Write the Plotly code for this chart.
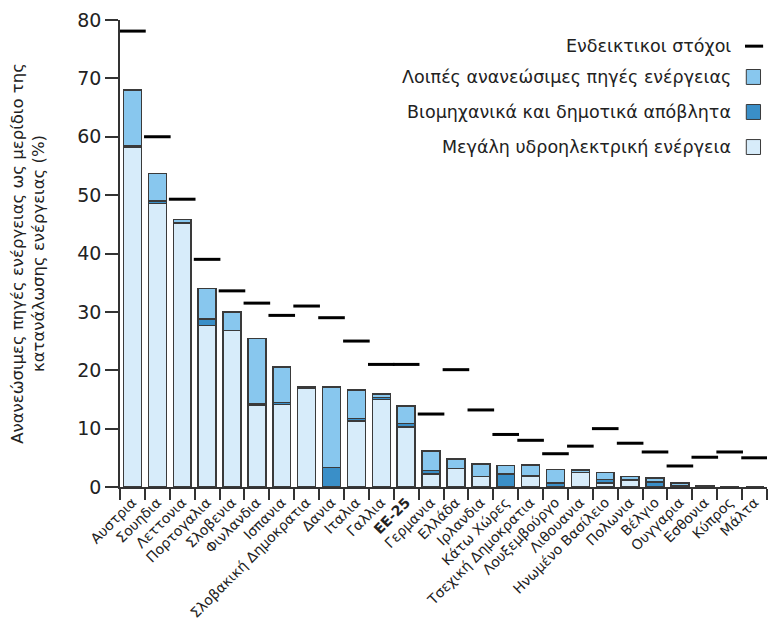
import plotly.graph_objects as go

countries = ["Αυστρια", "Σουηδια", "Λεττονια", "Πορτογαλια", "Σλοβενια", "Φινλανδια",
             "Ισπανια", "Σλοβακική Δημοκρατια", "Δανια", "Ιταλια", "Γαλλια", "<b>EE-25</b>",
             "Γερμανια", "Ελλάδα", "Ιρλανδια", "Κάτω Χώρες", "Τσεχική Δημοκρατια",
             "Λουξεμβούργο", "Λιθουανια", "Ηνωμένο Βασίλειο", "Πολωνια", "Βέλγιο",
             "Ουγγαρια", "Εσθονια", "Κύπρος", "Μάλτα"]

large_hydro = [58.2, 48.6, 45.2, 27.7, 26.8, 14.0, 14.1, 17.0, 0.0, 11.3, 15.0, 10.3,
               2.2, 3.2, 1.8, 0.0, 1.9, 0.0, 2.5, 0.7, 1.2, 0.1, 0.2, 0.05, 0.0, 0.0]
waste = [0.2, 0.4, 0.1, 1.1, 0.0, 0.2, 0.4, 0.0, 3.3, 0.4, 0.3, 0.6,
         0.6, 0.0, 0.0, 2.2, 0.0, 0.7, 0.0, 0.6, 0.0, 0.8, 0.1, 0.0, 0.0, 0.0]
other_res = [9.6, 4.7, 0.5, 5.2, 3.2, 11.2, 6.1, 0.1, 13.8, 4.9, 0.6, 3.0,
             3.4, 1.6, 2.1, 1.5, 1.9, 2.3, 0.4, 1.2, 0.6, 0.6, 0.4, 0.1, 0.02, 0.0]
targets = [78.1, 60.0, 49.3, 39.0, 33.6, 31.5, 29.4, 31.0, 29.0, 25.0, 21.0, 21.0,
           12.5, 20.1, 13.2, 9.0, 8.0, 5.7, 7.0, 10.0, 7.5, 6.0, 3.6, 5.1, 6.0, 5.0]

c_hydro = "#D7ECFA"
c_waste = "#3A8FC8"
c_other = "#88C7EE"
edge = "#3a3a3a"
font = "DejaVu Sans, Verdana, sans-serif"

fig = go.Figure()
for name, vals, col in [("Μεγάλη υδροηλεκτρική ενέργεια", large_hydro, c_hydro),
                        ("Βιομηχανικά και δημοτικά απόβλητα", waste, c_waste),
                        ("Λοιπές ανανεώσιμες πηγές ενέργειας", other_res, c_other)]:
    fig.add_trace(go.Bar(x=countries, y=vals, name=name, marker_color=col,
                         marker_line=dict(color=edge, width=1.5), width=0.72,
                         showlegend=False))

fig.add_trace(go.Scatter(x=countries, y=targets, mode="markers", name="Ενδεικτικοι στόχοι",
                         marker=dict(symbol="line-ew", size=19,
                                     line=dict(color="black", width=3)),
                         showlegend=False))

# the page body adds an 8px offset, margins account for it
fig.update_layout(
    barmode="stack",
    width=777, height=627,
    margin=dict(l=112, r=18, t=12, b=148),
    plot_bgcolor="white", paper_bgcolor="white",
    font=dict(family=font, color="#222222"),
)
fig.update_xaxes(range=[-0.5, 25.5], showline=True, linecolor="#333333", linewidth=1.5,
                 ticks="outside", tickson="boundaries", ticklen=11, tickwidth=1.5,
                 tickcolor="#333333", tickangle=-45, tickfont=dict(size=14),
                 automargin=False)
fig.update_yaxes(range=[0, 80], dtick=10, showline=True, linecolor="#333333",
                 linewidth=1.5, ticks="outside", ticklen=13, tickwidth=1.5,
                 tickcolor="#333333", showgrid=False, zeroline=False,
                 tickfont=dict(size=19), automargin=False,
                 title=dict(text="Ανανεώσιμες πηγές ενέργειας ως μερίδιο της<br>κατανάλωσης ενέργειας (%)",
                            font=dict(size=16.5), standoff=30))

# legend drawn by hand: text on the left, symbol on the right
legend_rows = [("Ενδεικτικοι στόχοι", None), ("Λοιπές ανανεώσιμες πηγές ενέργειας", c_other),
               ("Βιομηχανικά και δημοτικά απόβλητα", c_waste), ("Μεγάλη υδροηλεκτρική ενέργεια", c_hydro)]
row_y = [0.944, 0.878, 0.803, 0.728]
for (txt, col), yy in zip(legend_rows, row_y):
    fig.add_annotation(xref="paper", yref="paper", x=0.947, y=yy, text=txt, showarrow=False,
                       xanchor="right", yanchor="middle", font=dict(size=17.5, color="#222222"))
    if col is None:
        fig.add_shape(type="line", xref="paper", yref="paper", x0=0.966, x1=0.994, y0=yy, y1=yy,
                      line=dict(color="black", width=3))
    else:
        fig.add_shape(type="rect", xref="paper", yref="paper", x0=0.968, x1=0.99,
                      y0=yy - 0.016, y1=yy + 0.016, fillcolor=col, line=dict(color=edge, width=1))

fig.write_html("out.html")
